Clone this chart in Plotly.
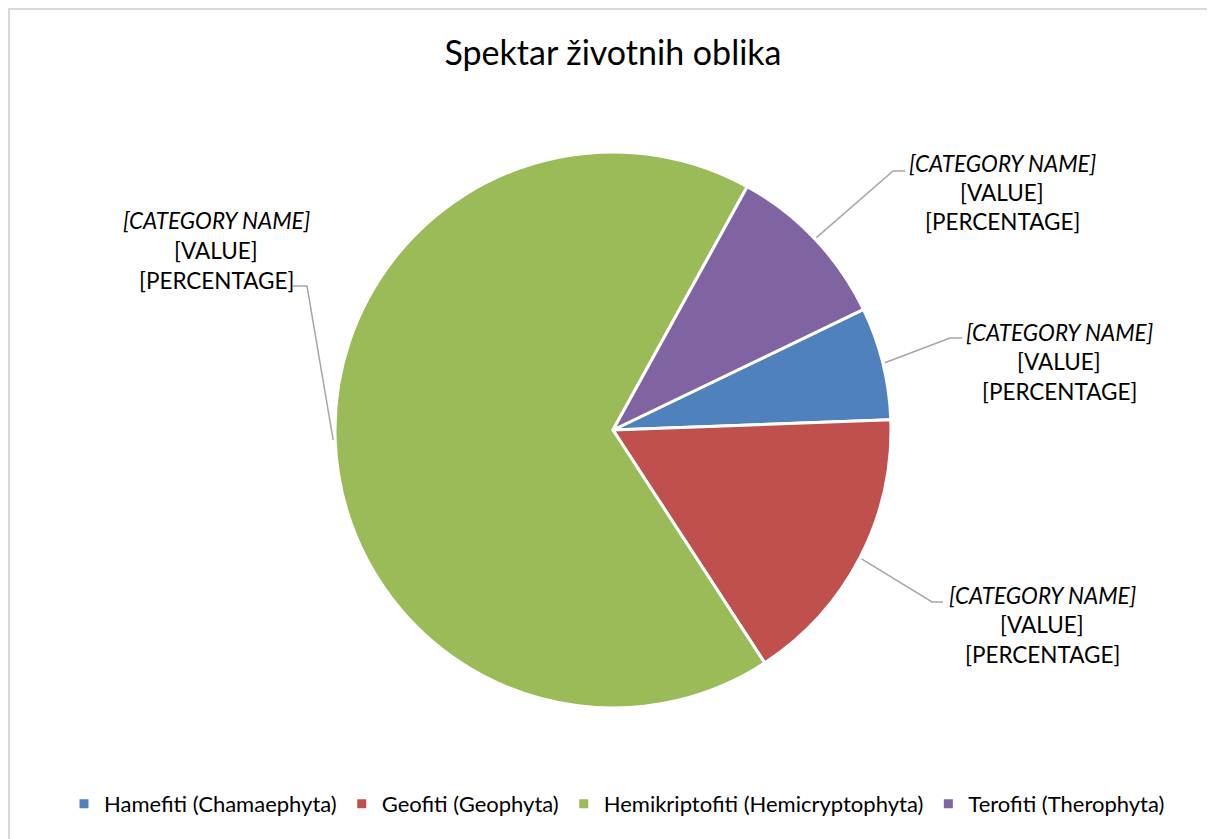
import math
import plotly.graph_objects as go

# ---- data ----
categories = ["Hamefiti (Chamaephyta)", "Geofiti (Geophyta)",
              "Hemikriptofiti (Hemicryptophyta)", "Terofiti (Therophyta)"]
values = [4, 10, 41, 6]
colors = ["#4F81BD", "#C0504D", "#9BBB59", "#8064A2"]
label_lines = ["[CATEGORY NAME]", "[VALUE]", "[PERCENTAGE]"]
title_text = "Spektar životnih oblika"

# ---- layout geometry (page pixels; the page body has an 8px margin) ----
OFF = 8
W, H = 1215 - OFF, 839 - OFF
CX, CY, R = 613, 430, 278
ROT = 64.3
FONT = "Lato"
# label block centre (x, y of first line), elbow, end of leader
label_pos = [
    (1059, 332, (950, 338), (962, 338)),
    (1042, 595, (932, 602), (943, 602)),
    (216, 221, (307, 286), (293, 286)),
    (1002, 163, (893, 171), (905, 171)),
]
LINE_GAP = 29.5


def px(x):
    return (x - OFF) / W


def py(y):
    return 1 - (y - OFF) / H


fig = go.Figure()
fig.add_trace(go.Pie(
    labels=categories, values=values, sort=False, direction="clockwise",
    rotation=ROT, marker=dict(colors=colors, line=dict(color="white", width=3)),
    textinfo="none", hoverinfo="label+value+percent",
    domain=dict(x=[px(CX - R), px(CX + R)], y=[py(CY + R), py(CY - R)]),
))

annotations = []
shapes = []
total = sum(values)
cum = 0
for i, v in enumerate(values):
    mid = math.radians(ROT + (cum + v / 2) / total * 360)
    cum += v
    sx = CX + (R + 2) * math.sin(mid)
    sy = CY - (R + 2) * math.cos(mid)
    lx, ly, (ex, ey), (fx, fy) = label_pos[i]
    shapes.append(dict(
        type="path", xref="paper", yref="paper",
        path=f"M {px(sx)},{py(sy)} L {px(ex)},{py(ey)} L {px(fx)},{py(fy)}",
        line=dict(color="#A6A6A6", width=1.5),
    ))
    for j, t in enumerate(label_lines):
        annotations.append(dict(
            x=px(lx), y=py(ly + j * LINE_GAP), xref="paper", yref="paper",
            text=f"<i>{t}</i>" if j == 0 else t, showarrow=False,
            xanchor="center", yanchor="middle",
            font=dict(family=FONT, size=22.5, color="#000000"),
        ))

shapes.append(dict(type="rect", xref="paper", yref="paper",
                   x0=px(9), y0=py(9), x1=1.02, y1=-0.02,
                   line=dict(color="#D9D9D9", width=2)))

fig.update_layout(
    width=W, height=H,
    margin=dict(l=0, r=0, t=0, b=0, autoexpand=False),
    paper_bgcolor="white", plot_bgcolor="white",
    title=dict(text=title_text, x=px(613), xanchor="center", y=py(53), yanchor="middle",
               font=dict(family=FONT, size=34, color="#000000")),
    legend=dict(orientation="h", x=px(617), xanchor="center", y=py(804), yanchor="middle",
                font=dict(family=FONT, size=22, color="#000000"),
                itemwidth=30, traceorder="normal"),
    annotations=annotations, shapes=shapes,
)

fig.write_html("out.html")
